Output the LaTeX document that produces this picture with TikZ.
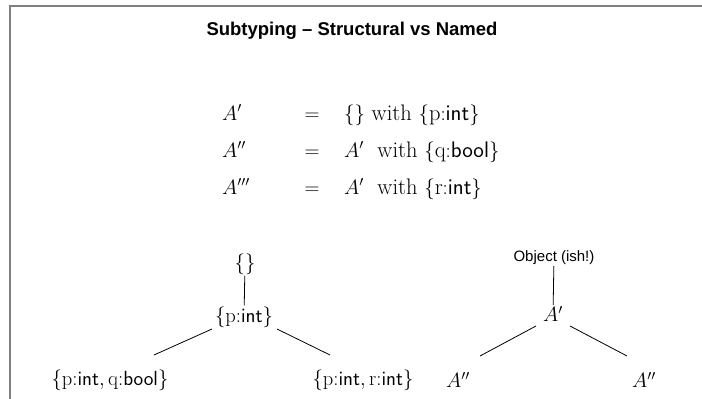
\documentclass[tikz,border=0pt]{standalone}
\usepackage{fontspec}
\newfontfamily\headfont{Liberation Sans}
\begin{document}
\begin{tikzpicture}[x=1pt,y=-1pt,
  title/.style={font=\headfont\bfseries\fontsize{18.5}{20}\selectfont},
  eqn/.style={font=\fontsize{22.5}{26}\selectfont, anchor=base, inner sep=0pt},
  tree/.style={font=\fontsize{20.5}{22}\selectfont, inner sep=1pt},
  small/.style={font=\headfont\fontsize{15}{17}\selectfont, inner sep=1pt},
  edge/.style={draw=black, line width=0.8pt}]
\useasboundingbox (0,0) rectangle (702,399);
\draw[gray, line width=2pt] (10,399) -- (10,6) -- (702,6);
\node[title] (title) at (352,31) {Subtyping \textendash{} Structural vs Named};
% equations
\node[eqn, anchor=base west] (l1) at (222,120) {$A'$};
\node[eqn] (e1) at (312,120) {$=$};
\node[eqn, anchor=base west] (r1) at (344,120) {$\{\}$ with $\{\mathrm{p}{:}\textsf{int}\}$};
\node[eqn, anchor=base west] (l2) at (222,157) {$A''$};
\node[eqn] (e2) at (312,157) {$=$};
\node[eqn, anchor=base west] (r2) at (344,157) {$A'$\ \ with $\{\mathrm{q}{:}\textsf{bool}\}$};
\node[eqn, anchor=base west] (l3) at (222,194) {$A'''$};
\node[eqn] (e3) at (312,194) {$=$};
\node[eqn, anchor=base west] (r3) at (344,194) {$A'$\ \ with $\{\mathrm{r}{:}\textsf{int}\}$};
% left tree
\node[tree] (t0) at (245,264) {$\{\}$};
\node[tree] (t1) at (244,317) {$\{\mathrm{p}{:}\textsf{int}\}$};
\node[tree] (t2) at (110,380) {$\{\mathrm{p}{:}\textsf{int}, \mathrm{q}{:}\textsf{bool}\}$};
\node[tree] (t3) at (363,380) {$\{\mathrm{p}{:}\textsf{int}, \mathrm{r}{:}\textsf{int}\}$};
\draw[edge] (t0) -- (t1);
\draw[edge] (212,329) -- (154,355);
\draw[edge] (277,329) -- (330,355);
% right tree
\node[small] (o0) at (554,258) {Object (ish!)};
\node[tree] (o1) at (553,314) {$A'$};
\node[tree] (o2) at (458,380) {$A''$};
\node[tree] (o3) at (644,380) {$A''$};
\draw[edge] (o0) -- (o1);
\draw[edge] (536,326) -- (480,356);
\draw[edge] (570,326) -- (627,356);
\end{tikzpicture}
\end{document}
